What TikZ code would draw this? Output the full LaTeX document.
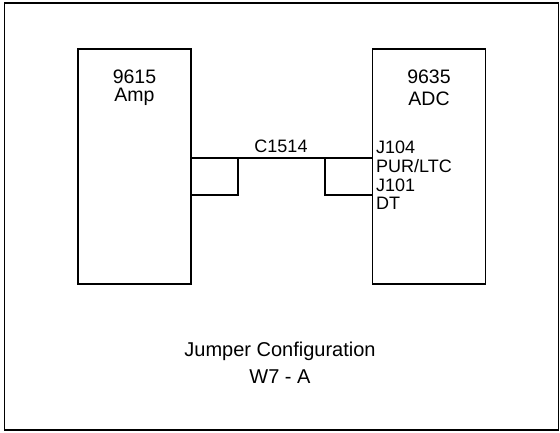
\documentclass[tikz,border=0pt]{standalone}
\usepackage{fontspec}
\setmainfont{Liberation Sans}
\begin{document}
\begin{tikzpicture}[x=1pt,y=-1pt,
  ln/.style={line width=1.6pt},
  box/.style={draw,line width=1.6pt,minimum width=113pt,minimum height=235pt,inner sep=0pt},
  lbl/.style={font=\fontsize{18}{20}\selectfont,inner sep=0pt},
  hdr/.style={font=\fontsize{19.5}{22}\selectfont,inner sep=0pt},
  ttl/.style={font=\fontsize{20}{24}\selectfont,inner sep=0pt}]
\useasboundingbox (0,0) rectangle (560,432);
\node[draw,line width=1.6pt,minimum width=554pt,minimum height=427pt,inner sep=0pt] (frame) at (281.5,216.5) {};
\node[box] (amp) at (134.5,166.5) {};
\node[box] (adc) at (429,166.5) {};
\node[hdr] (ampa) at (134.5,77) {9615};
\node[hdr] (ampb) at (134.5,97) {Amp};
\node[hdr] (adca) at (429,77) {9635};
\node[hdr] (adcb) at (429,99) {ADC};
\node[lbl,anchor=west] (j104) at (376,147) {J104};
\node[lbl,anchor=west] (pur) at (376,166) {PUR/LTC};
\node[lbl,anchor=west] (j101) at (376,185) {J101};
\node[lbl,anchor=west] (dt) at (376,203) {DT};
\node[lbl] (c1514) at (281,146) {C1514};
\node[ttl] (t1) at (280,351) {Jumper Configuration};
\node[ttl] (t2) at (280,377) {W7 - A};
\coordinate (ya) at (0,158);
\coordinate (yb) at (0,195);
\coordinate (lj) at (238,0);
\coordinate (rj) at (325,0);
\draw[ln] (amp.east |- ya) -- (adc.west |- ya);
\draw[ln] (lj |- ya) -- (lj |- yb) -- (amp.east |- yb);
\draw[ln] (rj |- ya) -- (rj |- yb) -- (adc.west |- yb);
\end{tikzpicture}
\end{document}
